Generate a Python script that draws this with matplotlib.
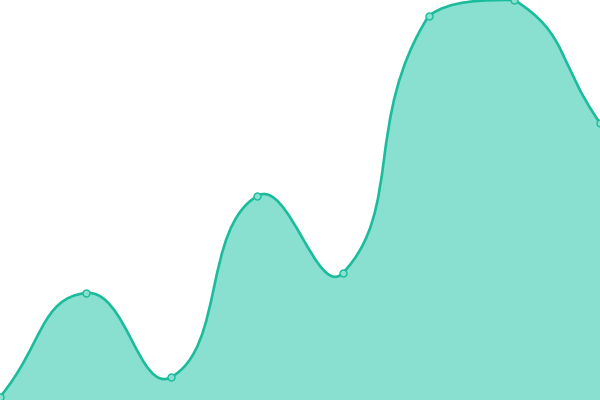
import numpy as np
import matplotlib
matplotlib.use('Agg')
import matplotlib.pyplot as plt
from matplotlib.path import Path
from matplotlib.patches import PathPatch

# 数据
categories = ['A', 'B', 'C', 'D', 'E', 'F', 'G', 'H']
values = [3, 107, 23, 204, 127, 384, 400, 277]

line_color = '#1abc9c'
fill_color = '#8ae0d0'


# 平滑曲线控制点 (带包围盒约束)
def smoothPath(xs, ys, smooth=0.5):
    pts = np.column_stack([xs, ys]).astype(float)
    lo = pts.min(axis=0)
    hi = pts.max(axis=0)
    n = len(pts)
    cps = []
    for i in range(n):
        prev = pts[max(i - 1, 0)]
        nxt = pts[min(i + 1, n - 1)]
        v = (nxt - prev) * smooth
        d0 = np.hypot(*(pts[i] - prev))
        d1 = np.hypot(*(nxt - pts[i]))
        r = d1 / (d0 + d1)
        c0 = np.clip(pts[i] - v * (1 - r), lo, hi)
        c1 = np.clip(pts[i] + v * r, lo, hi)
        cps.append((c0, c1))
    verts = [tuple(pts[0])]
    codes = [Path.MOVETO]
    for i in range(n - 1):
        verts += [tuple(cps[i][1]), tuple(cps[i + 1][0]), tuple(pts[i + 1])]
        codes += [Path.CURVE4] * 3
    return verts, codes


x = np.arange(len(values)) * 600 / (len(values) - 1)
verts, codes = smoothPath(x, values)

fig = plt.figure(figsize=(6, 4), dpi=100)
ax = fig.add_axes([0, 0, 1, 1])
ax.set_xlim(0, 600)
ax.set_ylim(0, 400)
ax.axis('off')

fill_verts = verts + [(x[-1], 0), (x[0], 0), verts[0]]
fill_codes = codes + [Path.LINETO, Path.LINETO, Path.CLOSEPOLY]
ax.add_patch(PathPatch(Path(fill_verts, fill_codes), facecolor=fill_color, edgecolor='none'))
ax.add_patch(PathPatch(Path(verts, codes), facecolor='none', edgecolor=line_color, lw=1.9))
ax.plot(x, values, 'o', ms=5, mfc=fill_color, mec=line_color, mew=1.0)

plt.savefig('out.png', dpi=100)
